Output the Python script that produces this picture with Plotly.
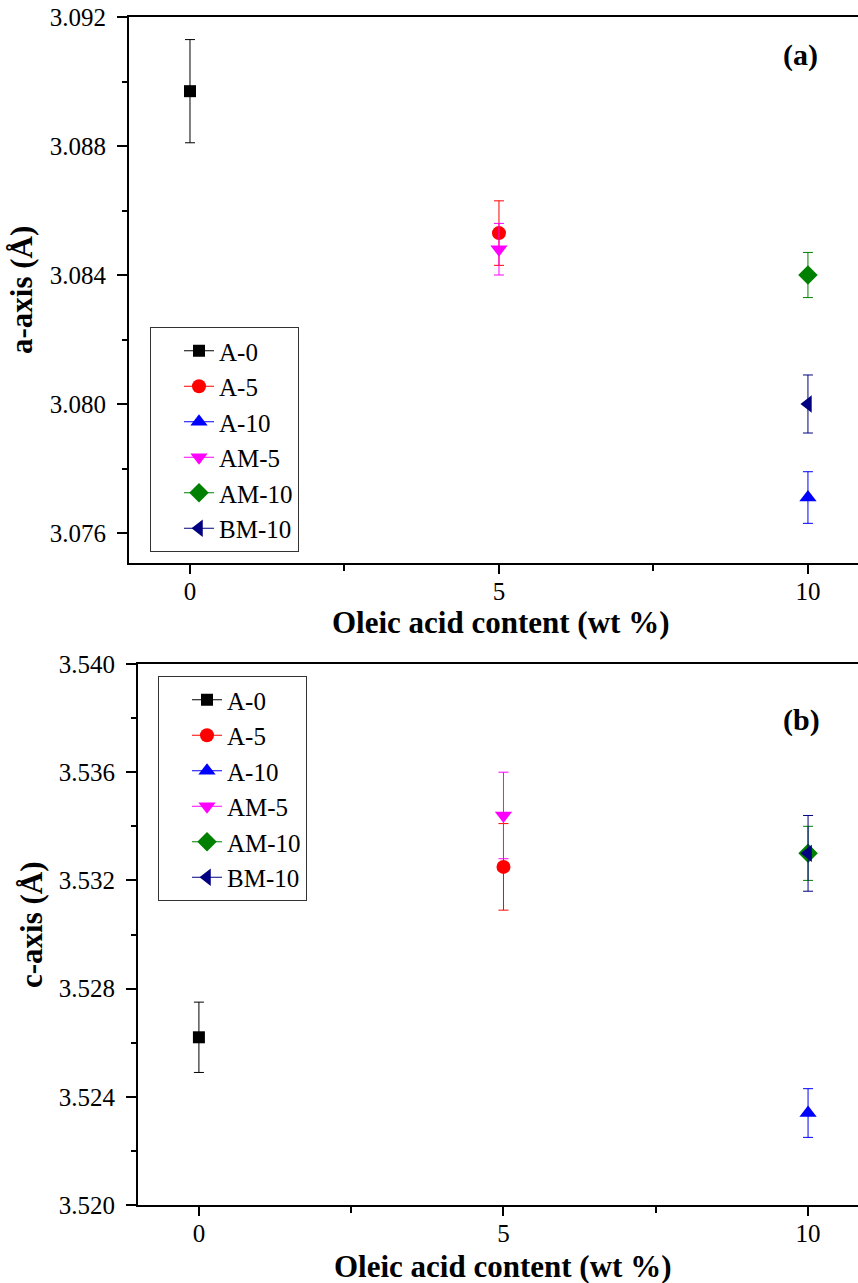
import plotly.graph_objects as go

# ---- data ----
names = ["A-0", "A-5", "A-10", "AM-5", "AM-10", "BM-10"]
oleic = [0, 5, 10, 5, 10, 10]
a_axis = [3.0897, 3.0853, 3.0771, 3.0848, 3.0840, 3.0800]
a_err = [0.0016, 0.0010, 0.0008, 0.0008, 0.0007, 0.0009]
c_axis = [3.5262, 3.5325, 3.5234, 3.5344, 3.5330, 3.5330]
c_err = [0.0013, 0.0016, 0.0009, 0.0016, 0.0010, 0.0014]
colors = ["#000000", "#FF0000", "#0000FF", "#FF00FF", "#008000", "#000080"]
symbols = ["square", "circle", "triangle-up", "triangle-down", "diamond", "triangle-left"]
sizes = [12, 14, 15, 15, 15, 15]
x_ticks = [0, 5, 10]
a_ticks = [3.076, 3.080, 3.084, 3.088, 3.092]
c_ticks = [3.520, 3.524, 3.528, 3.532, 3.536, 3.540]

W, H = 858, 1283
FONT = "Liberation Serif, Times New Roman, Times, serif"

fig = go.Figure()

for i, n in enumerate(names):
    fig.add_trace(go.Scatter(
        x=[oleic[i]], y=[a_axis[i]], name=n, mode="lines+markers",
        marker=dict(symbol=symbols[i], size=sizes[i], color=colors[i]),
        line=dict(color=colors[i], width=1),
        error_y=dict(type="data", array=[a_err[i]], color=colors[i], thickness=1, width=5),
        xaxis="x", yaxis="y", legend="legend"))
for i, n in enumerate(names):
    fig.add_trace(go.Scatter(
        x=[oleic[i]], y=[c_axis[i]], name=n, mode="lines+markers",
        marker=dict(symbol=symbols[i], size=sizes[i], color=colors[i]),
        line=dict(color=colors[i], width=1),
        error_y=dict(type="data", array=[c_err[i]], color=colors[i], thickness=1, width=5),
        xaxis="x2", yaxis="y2", legend="legend2"))

tickfont = dict(family=FONT, size=25, color="black")

def xax(domain, rng, anchor):
    return dict(domain=domain, range=rng, anchor=anchor, tickvals=x_ticks,
                ticks="outside", ticklen=9, tickwidth=2, tickcolor="black",
                showline=True, linewidth=2, linecolor="black", mirror=True,
                showgrid=False, zeroline=False, tickfont=tickfont,
                ticklabelstandoff=-4, automargin=False,
                minor=dict(tickvals=[2.5, 7.5], ticks="outside", ticklen=6,
                           tickwidth=2, tickcolor="black", showgrid=False))

def yax(domain, rng, anchor, vals, minorvals):
    return dict(domain=domain, range=rng, anchor=anchor, tickvals=vals,
                ticktext=[f"{v:.3f}" for v in vals],
                ticks="outside", ticklen=10, tickwidth=2, tickcolor="black",
                showline=True, linewidth=2, linecolor="black", mirror=False,
                showgrid=False, zeroline=False, tickfont=tickfont,
                ticklabelstandoff=6, automargin=False,
                minor=dict(tickvals=minorvals, ticks="outside", ticklen=5,
                           tickwidth=2, tickcolor="black", showgrid=False))

a_minor = [a_ticks[i] + 0.002 for i in range(len(a_ticks) - 1)]
c_minor = [c_ticks[i] + 0.002 for i in range(len(c_ticks) - 1)]

legfont = dict(family=FONT, size=25, color="black")

fig.update_layout(
    width=W, height=H,
    margin=dict(l=0, r=0, t=0, b=0, autoexpand=False),
    paper_bgcolor="white", plot_bgcolor="white",
    showlegend=True,
    xaxis=xax([129 / W, 1], [-0.987, 10.81], "y"),
    yaxis=yax([1 - 563 / H, 1 - 17 / H], [3.07507, 3.092], "x", a_ticks, a_minor),
    xaxis2=xax([138 / W, 1], [-1.0, 10.82], "y2"),
    yaxis2=yax([1 - 1205 / H, 1 - 664 / H], [3.520, 3.540], "x2", c_ticks, c_minor),
    legend=dict(x=150 / W, y=1 - 327 / H, xanchor="left", yanchor="top",
                bordercolor="#333333", borderwidth=1, bgcolor="white",
                font=legfont, indentation=28, tracegroupgap=0),
    legend2=dict(x=158 / W, y=1 - 676 / H, xanchor="left", yanchor="top",
                 bordercolor="#333333", borderwidth=1, bgcolor="white",
                 font=legfont, indentation=28, tracegroupgap=0),
)

titlefont = dict(family=FONT, size=31, color="black")
ann = [
    dict(text="<b>Oleic acid content (wt %)</b>", x=500 / W, y=1 - 622 / H),
    dict(text="<b>Oleic acid content (wt %)</b>", x=503 / W, y=1 - 1266 / H),
    dict(text="<b>a-axis (Å)</b>", x=22 / W, y=1 - 290 / H, textangle=-90),
    dict(text="<b>c-axis (Å)</b>", x=32 / W, y=1 - 925 / H, textangle=-90),
]
for a in ann:
    fig.add_annotation(xref="paper", yref="paper", xanchor="center", yanchor="middle",
                       showarrow=False, font=titlefont, **a)

labfont = dict(family=FONT, size=30, color="black")
fig.add_annotation(text="<b>(a)</b>", x=800 / W, y=1 - 55 / H, xref="paper", yref="paper",
                   showarrow=False, font=labfont, xanchor="center", yanchor="middle")
fig.add_annotation(text="<b>(b)</b>", x=801 / W, y=1 - 720 / H, xref="paper", yref="paper",
                   showarrow=False, font=labfont, xanchor="center", yanchor="middle")

fig.write_html("out.html")
